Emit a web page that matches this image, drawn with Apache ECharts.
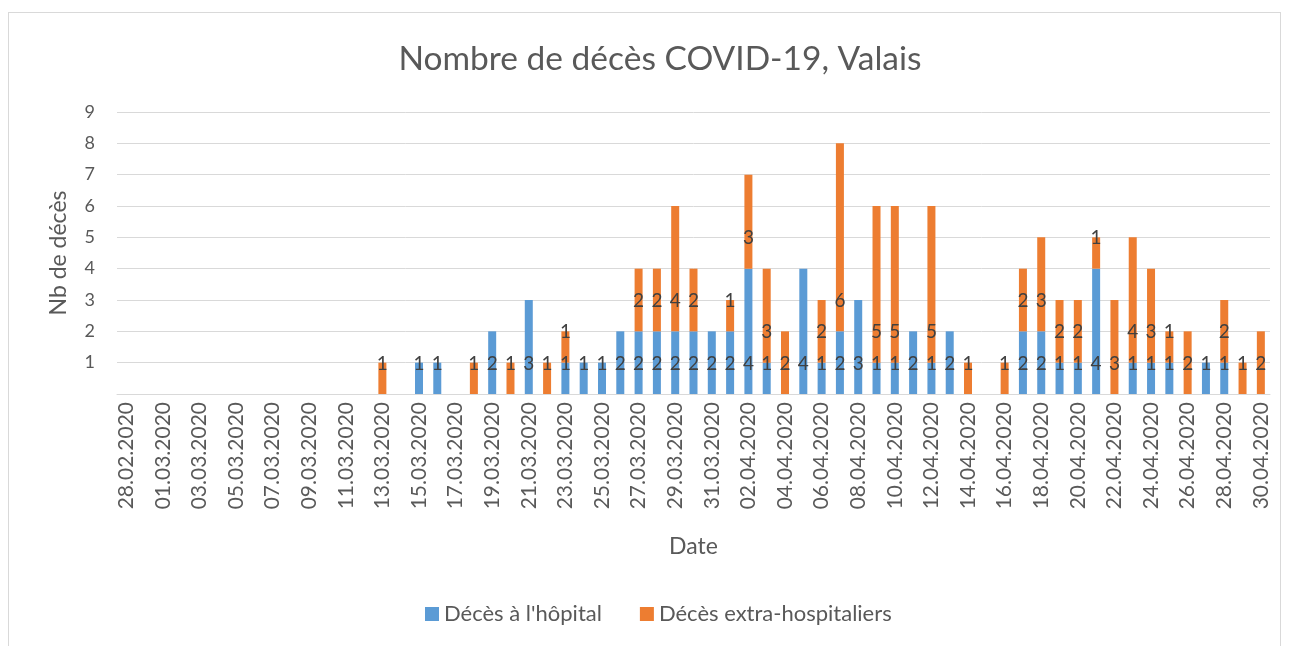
<!DOCTYPE html>
<html>
<head>
<meta charset="utf-8">
<script src="https://cdn.jsdelivr.net/npm/echarts@6/dist/echarts.min.js"></script>
<style>
  html, body { margin: 0; padding: 0; background: #fff; }
  #frame { position: absolute; left: 8px; top: 12px; width: 1273px; height: 700px; border: 1px solid #d9d9d9; box-sizing: border-box; }
  #chart { position: absolute; left: 0; top: 0; width: 1289px; height: 646px; }
</style>
</head>
<body>
<div id="frame"></div>
<div id="chart"></div>
<script>
// Dates (28.02.2020 -> 30.04.2020)
const dates = [
    '28.02.2020', '29.02.2020',
    '01.03.2020', '02.03.2020', '03.03.2020', '04.03.2020', '05.03.2020', '06.03.2020', '07.03.2020', '08.03.2020',
    '09.03.2020', '10.03.2020', '11.03.2020', '12.03.2020', '13.03.2020', '14.03.2020', '15.03.2020', '16.03.2020',
    '17.03.2020', '18.03.2020', '19.03.2020', '20.03.2020', '21.03.2020', '22.03.2020', '23.03.2020', '24.03.2020',
    '25.03.2020', '26.03.2020', '27.03.2020', '28.03.2020', '29.03.2020', '30.03.2020', '31.03.2020',
    '01.04.2020', '02.04.2020', '03.04.2020', '04.04.2020', '05.04.2020', '06.04.2020', '07.04.2020', '08.04.2020',
    '09.04.2020', '10.04.2020', '11.04.2020', '12.04.2020', '13.04.2020', '14.04.2020', '15.04.2020', '16.04.2020',
    '17.04.2020', '18.04.2020', '19.04.2020', '20.04.2020', '21.04.2020', '22.04.2020', '23.04.2020', '24.04.2020',
    '25.04.2020', '26.04.2020', '27.04.2020', '28.04.2020', '29.04.2020', '30.04.2020'
];

// Décès à l'hôpital
const hopital = [
    null, null,
    null, null, null, null, null, null, null, null,
    null, null, null, null, null, null, 1, 1,
    null, null, 2, null, 3, null, 1, 1,
    1, 2, 2, 2, 2, 2, 2,
    2, 4, 1, null, 4, 1, 2, 3,
    1, 1, 2, 1, 2, null, null, null,
    2, 2, 1, 1, 4, null, 1, 1,
    1, null, 1, 1, null, null
];

// Décès extra-hospitaliers
const extra = [
    null, null,
    null, null, null, null, null, null, null, null,
    null, null, null, null, 1, null, null, null,
    null, 1, null, 1, null, 1, 1, null,
    null, null, 2, 2, 4, 2, null,
    1, 3, 3, 2, null, 2, 6, null,
    5, 5, null, 5, null, 1, null, 1,
    2, 3, 2, 2, 1, 3, 4, 3,
    1, 2, null, 2, 1, 2
];

const font = 'Lato, "Open Sans", sans-serif';

const chart = echarts.init(document.getElementById('chart'));

const labelStyle = {
    show: true,
    position: 'insideBottom',
    distance: 21,
    color: '#404040',
    fontSize: 19,
    fontFamily: font
};

chart.setOption({
    animation: false,
    title: {
        text: 'Nombre de décès COVID-19, Valais',
        left: 655,
        textAlign: 'center',
        top: 37,
        textStyle: { fontFamily: font, fontSize: 33.5, fontWeight: 'normal', color: '#595959' }
    },
    legend: {
        bottom: 16,
        left: 420,
        itemWidth: 14,
        itemHeight: 14,
        itemGap: 38,
        icon: 'rect',
        textStyle: { fontFamily: font, fontSize: 22, color: '#595959' }
    },
    grid: { left: 117, right: 19, top: 112, bottom: 252 },
    xAxis: {
        type: 'category',
        data: dates,
        name: 'Date',
        nameLocation: 'middle',
        nameGap: 141,
        nameTextStyle: { fontFamily: font, fontSize: 23, color: '#595959' },
        axisLine: { lineStyle: { color: '#d9d9d9' } },
        axisTick: { interval: 1, length: 7, lineStyle: { color: '#d9d9d9' } },
        axisLabel: { interval: 1, rotate: 90, fontFamily: font, fontSize: 21, color: '#595959', margin: 8 }
    },
    yAxis: {
        type: 'value',
        min: 0,
        max: 9,
        interval: 1,
        name: 'Nb de décès',
        nameLocation: 'middle',
        nameGap: 47,
        nameTextStyle: { fontFamily: font, fontSize: 23, color: '#595959' },
        axisLine: { show: false },
        axisTick: { show: false },
        splitLine: { lineStyle: { color: '#d9d9d9' } },
        axisLabel: {
            fontFamily: font, fontSize: 18, color: '#595959', margin: 22,
            formatter: v => (v === 0 ? '' : v)
        }
    },
    series: [
        {
            name: "Décès à l'hôpital",
            type: 'bar',
            stack: 'total',
            barWidth: 8,
            data: hopital,
            itemStyle: { color: '#5B9BD5' },
            label: labelStyle
        },
        {
            name: 'Décès extra-hospitaliers',
            type: 'bar',
            stack: 'total',
            barWidth: 8,
            data: extra,
            itemStyle: { color: '#ED7D31' },
            label: labelStyle
        }
    ]
});
</script>
</body>
</html>
